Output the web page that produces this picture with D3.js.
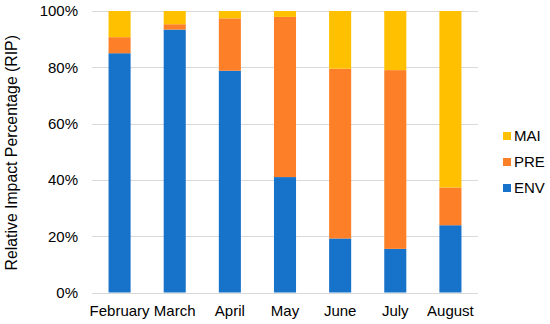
<!DOCTYPE html>
<html>
<head>
<meta charset="utf-8">
<script src="https://cdn.jsdelivr.net/npm/d3@7"></script>
<style>
  body { margin: 0; background: #fff; }
  text { font-family: "Liberation Sans", Arial, sans-serif; fill: #000; }
</style>
</head>
<body>
<div id="wrapper"></div>
<script>
const months = ["February", "March", "April", "May", "June", "July", "August"];
const seriesNames = ["ENV", "PRE", "MAI"];
const env = [85.0, 93.4, 78.8, 41.0, 19.2, 15.5, 23.9];
const pre = [5.7, 1.9, 18.6, 56.9, 60.3, 63.5, 13.4];
const mai = [9.3, 4.7, 2.6, 2.1, 20.5, 21.0, 62.7];
const yTicks = [0, 20, 40, 60, 80, 100];
const colors = { ENV: "#1772CA", PRE: "#FD7F28", MAI: "#FFC000" };

function drawChart() {
  const dimensions = {
    width: 550,
    height: 324,
    margin: { top: 11, right: 72, bottom: 31.5, left: 92 }
  };
  dimensions.boundedWidth = dimensions.width - dimensions.margin.left - dimensions.margin.right;
  dimensions.boundedHeight = dimensions.height - dimensions.margin.top - dimensions.margin.bottom;

  const rows = months.map((m, i) => ({ month: m, ENV: env[i], PRE: pre[i], MAI: mai[i] }));
  const stacked = d3.stack().keys(seriesNames)(rows);

  const wrapper = d3.select("#wrapper").append("svg")
    .attr("width", dimensions.width)
    .attr("height", dimensions.height);

  const bounds = wrapper.append("g")
    .attr("transform", `translate(${dimensions.margin.left},${dimensions.margin.top})`);

  const xScaler = d3.scaleBand()
    .domain(months)
    .range([0, dimensions.boundedWidth])
    .paddingInner(0.6)
    .paddingOuter(0.3);

  const yScaler = d3.scaleLinear()
    .domain([0, 100])
    .range([dimensions.boundedHeight, 0]);

  // gridlines
  bounds.append("g").selectAll("line")
    .data(yTicks)
    .enter().append("line")
    .attr("x1", 0)
    .attr("x2", dimensions.boundedWidth)
    .attr("y1", d => Math.round(yScaler(d)) + 0.5)
    .attr("y2", d => Math.round(yScaler(d)) + 0.5)
    .attr("stroke", "#d9d9d9")
    .attr("stroke-width", 1);

  // bars
  const layers = bounds.append("g").selectAll("g")
    .data(stacked)
    .enter().append("g")
    .attr("fill", d => colors[d.key]);

  layers.selectAll("rect")
    .data(d => d)
    .enter().append("rect")
    .attr("x", d => xScaler(d.data.month))
    .attr("y", d => yScaler(d[1]))
    .attr("width", xScaler.bandwidth())
    .attr("height", d => yScaler(d[0]) - yScaler(d[1]));

  // y axis
  const yAxisGen = d3.axisLeft(yScaler)
    .tickValues(yTicks)
    .tickFormat(d => d + "%")
    .tickSize(0)
    .tickPadding(14);
  const axisY = bounds.append("g").call(yAxisGen);
  axisY.select(".domain").remove();
  axisY.selectAll("text").style("font-size", "15px").style("font-family", "Liberation Sans, Arial, sans-serif");

  // x axis
  const xAxisGen = d3.axisBottom(xScaler).tickSize(0).tickPadding(13);
  const axisX = bounds.append("g")
    .attr("transform", `translate(0,${dimensions.boundedHeight})`)
    .call(xAxisGen);
  axisX.select(".domain").remove();
  axisX.selectAll("text").style("font-size", "15px").style("font-family", "Liberation Sans, Arial, sans-serif");

  // y label
  wrapper.append("text")
    .attr("transform", `translate(17,${dimensions.margin.top + dimensions.boundedHeight / 2 + 1}) rotate(-90)`)
    .attr("text-anchor", "middle")
    .style("font-size", "15.8px")
    .text("Relative Impact Percentage (RIP)");

  // legend
  const legendItems = ["MAI", "PRE", "ENV"];
  const legend = wrapper.append("g")
    .attr("transform", "translate(503,136)");
  const item = legend.selectAll("g")
    .data(legendItems)
    .enter().append("g")
    .attr("transform", (d, i) => `translate(0,${i * 26})`);
  item.append("rect")
    .attr("x", 0)
    .attr("y", -4)
    .attr("width", 8)
    .attr("height", 8)
    .attr("fill", d => colors[d]);
  item.append("text")
    .attr("x", 11)
    .attr("dy", "0.35em")
    .style("font-size", "15px")
    .text(d => d);
}

drawChart();
</script>
</body>
</html>
